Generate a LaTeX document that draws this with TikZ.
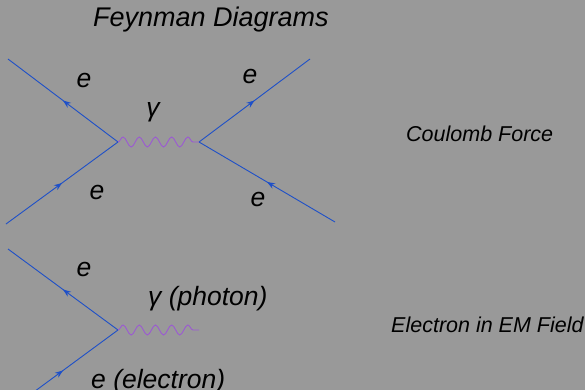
\documentclass[tikz,border=0pt]{standalone}
\usepackage{fontspec}
\setmainfont{Liberation Sans}
\usetikzlibrary{arrows.meta,decorations.markings,decorations.pathmorphing}
\definecolor{bgGray}{RGB}{153,153,153}
\definecolor{lineBlue}{RGB}{30,80,200}
\definecolor{photonPurple}{RGB}{155,90,210}
\tikzset{
  fermion/.style={draw=lineBlue, line width=0.9pt, postaction={decorate},
    decoration={markings, mark=at position 0.5 with {\arrow[lineBlue]{Stealth[length=8pt,width=6pt]}}}},
  photon/.style={draw=photonPurple, line width=0.9pt, decorate,
    decoration={snake, segment length=16.2pt, amplitude=5pt}},
  lbl/.style={font=\fontsize{26.5}{30}\selectfont\itshape, inner sep=0pt, anchor=base},
  caption/.style={font=\fontsize{21.5}{26}\selectfont\itshape, inner sep=0pt, anchor=base west}
}
\begin{document}
\begin{tikzpicture}[x=1pt, y=-1pt]
  \fill[bgGray] (0,0) rectangle (585,390);
  \useasboundingbox (0,0) rectangle (585,390);
  \clip (0,0) rectangle (585,390);
  % title
  \node[caption, font=\fontsize{27}{32}\selectfont\itshape] (title) at (93,27) {Feynman Diagrams};
  % Coulomb force
  \coordinate (vL) at (118,142);
  \coordinate (vR) at (199,142);
  \coordinate (inL) at (6,224);
  \coordinate (outL) at (8,59);
  \coordinate (inR) at (335,222);
  \coordinate (outR) at (310,59);
  \draw[fermion] (inL) -- (vL);
  \draw[fermion] (vL) -- (outL);
  \draw[fermion] (inR) -- (vR);
  \draw[fermion] (vR) -- (outR);
  \draw[photon] (vL) -- (vR);
  \node[lbl] (eOutL) at (84,88) {e};
  \node[lbl] (eInL) at (97,199) {e};
  \node[lbl] (gam) at (153,117) {γ};
  \node[lbl] (eOutR) at (250,84) {e};
  \node[lbl] (eInR) at (258,206) {e};
  \node[caption] (coulomb) at (406,142) {Coulomb Force};
  % electron in EM field
  \coordinate (v) at (118,330);
  \coordinate (in) at (8,411);
  \coordinate (out) at (8,249);
  \coordinate (ph) at (199,330);
  \draw[fermion] (in) -- (v);
  \draw[fermion] (v) -- (out);
  \draw[photon] (v) -- (ph);
  \node[lbl] (eOut) at (84,276) {e};
  \node[lbl, anchor=base west] (gamPh) at (148,305) {γ (photon)};
  \node[lbl, anchor=base west] (eIn) at (91,388) {e (electron)};
  \node[caption] (emField) at (391,332) {Electron in EM Field};
\end{tikzpicture}
\end{document}
